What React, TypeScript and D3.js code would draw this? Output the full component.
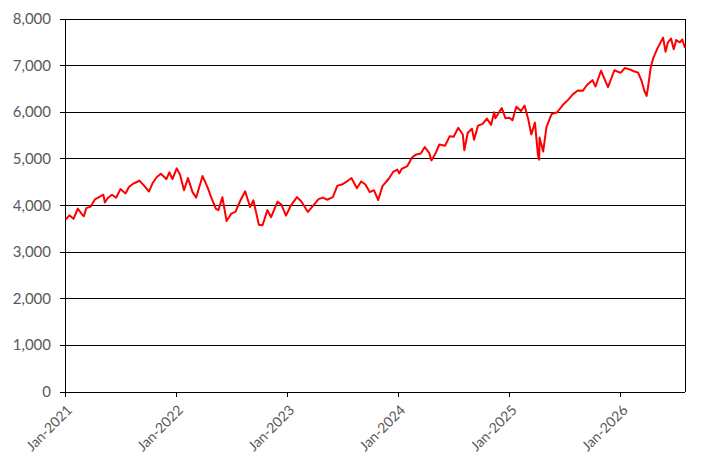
import { useEffect, useRef } from 'react';
import * as d3 from 'd3';

// index level (roughly every two weeks, plus the sharp turns)
const dates2021 = ['2021-01-04', '2021-01-15', '2021-01-29', '2021-02-12', '2021-02-26', '2021-03-04', '2021-03-12', '2021-03-26', '2021-04-09', '2021-04-23', '2021-05-07', '2021-05-12', '2021-05-21', '2021-06-04', '2021-06-18', '2021-07-02', '2021-07-19', '2021-07-30', '2021-08-13', '2021-08-27', '2021-09-02', '2021-09-17', '2021-10-04', '2021-10-15', '2021-10-29', '2021-11-12', '2021-11-30', '2021-12-10', '2021-12-20'];
const values2021 = [3700, 3790, 3714, 3934, 3811, 3768, 3943, 3975, 4129, 4180, 4232, 4063, 4156, 4230, 4166, 4352, 4258, 4395, 4468, 4509, 4537, 4433, 4300, 4471, 4605, 4682, 4567, 4712, 4568];

const dates2022 = ['2022-01-03', '2022-01-14', '2022-01-27', '2022-02-09', '2022-02-24', '2022-03-08', '2022-03-29', '2022-04-14', '2022-04-29', '2022-05-12', '2022-05-20', '2022-06-02', '2022-06-16', '2022-07-01', '2022-07-15', '2022-08-01', '2022-08-16', '2022-09-01', '2022-09-12', '2022-09-30', '2022-10-12', '2022-10-28', '2022-11-09', '2022-11-30', '2022-12-13', '2022-12-28'];
const values2022 = [4796, 4662, 4326, 4587, 4288, 4170, 4631, 4392, 4132, 3930, 3901, 4176, 3666, 3825, 3863, 4118, 4305, 3967, 4110, 3586, 3577, 3901, 3749, 4080, 4019, 3783];

const dates2023 = ['2023-01-13', '2023-02-02', '2023-02-16', '2023-03-10', '2023-03-24', '2023-04-14', '2023-04-28', '2023-05-12', '2023-05-31', '2023-06-15', '2023-06-30', '2023-07-14', '2023-07-31', '2023-08-18', '2023-09-01', '2023-09-15', '2023-09-29', '2023-10-13', '2023-10-27', '2023-11-10', '2023-11-30', '2023-12-15', '2023-12-29'];
const values2023 = [3999, 4179, 4090, 3862, 3971, 4137, 4169, 4124, 4180, 4426, 4450, 4505, 4589, 4370, 4516, 4450, 4288, 4328, 4117, 4415, 4568, 4719, 4770];

const dates2024 = ['2024-01-04', '2024-01-12', '2024-01-31', '2024-02-15', '2024-02-29', '2024-03-15', '2024-03-28', '2024-04-12', '2024-04-19', '2024-05-03', '2024-05-15', '2024-06-03', '2024-06-18', '2024-07-01', '2024-07-16', '2024-07-31', '2024-08-05', '2024-08-16', '2024-08-30', '2024-09-06', '2024-09-19', '2024-10-04', '2024-10-18', '2024-11-01', '2024-11-11', '2024-11-15', '2024-12-06', '2024-12-18', '2024-12-31'];
const values2024 = [4688, 4784, 4846, 5030, 5096, 5117, 5254, 5123, 4967, 5128, 5308, 5283, 5487, 5475, 5667, 5522, 5186, 5554, 5648, 5408, 5713, 5751, 5864, 5729, 6001, 5870, 6090, 5872, 5882];

const dates2025 = ['2025-01-10', '2025-01-23', '2025-02-07', '2025-02-19', '2025-03-03', '2025-03-13', '2025-03-25', '2025-04-04', '2025-04-08', '2025-04-09', '2025-04-21', '2025-05-02', '2025-05-19', '2025-06-06', '2025-06-27', '2025-07-11', '2025-07-28', '2025-08-13', '2025-08-29', '2025-09-12', '2025-09-30', '2025-10-10', '2025-10-28', '2025-11-20', '2025-12-11', '2025-12-31'];
const values2025 = [5827, 6119, 6026, 6144, 5850, 5522, 5777, 5074, 4982, 5457, 5158, 5687, 5963, 6000, 6173, 6260, 6389, 6466, 6460, 6584, 6688, 6552, 6890, 6538, 6901, 6845];

const dates2026 = ['2026-01-15', '2026-01-30', '2026-02-13', '2026-02-27', '2026-03-10', '2026-03-20', '2026-03-27', '2026-04-02', '2026-04-09', '2026-04-17', '2026-04-30', '2026-05-08', '2026-05-20', '2026-05-28', '2026-06-05', '2026-06-15', '2026-06-24', '2026-07-02', '2026-07-14', '2026-07-22', '2026-07-31'];
const values2026 = [6950, 6920, 6880, 6850, 6680, 6450, 6350, 6600, 6950, 7150, 7350, 7450, 7600, 7300, 7500, 7580, 7350, 7550, 7500, 7560, 7380];

const yTicks = [0, 1000, 2000, 3000, 4000, 5000, 6000, 7000, 8000];
const xTickYears = [2021, 2022, 2023, 2024, 2025, 2026];

export default function App() {
  const ref = useRef<SVGSVGElement | null>(null);

  useEffect(() => {
    if (!ref.current) return;

    const svg = d3.select(ref.current);
    svg.selectAll('*').remove();

    const parse = d3.timeParse('%Y-%m-%d');
    const dates = [...dates2021, ...dates2022, ...dates2023, ...dates2024, ...dates2025, ...dates2026];
    const values = [...values2021, ...values2022, ...values2023, ...values2024, ...values2025, ...values2026];
    const data = dates.map((d, i) => ({ date: parse(d)!, value: values[i] }));

    const left = 65;
    const right = 685;
    const top = 19;
    const bottom = 392;

    const x = d3
      .scaleTime()
      .domain([new Date(2021, 0, 1), new Date(2026, 6, 31)])
      .range([left, right]);

    const y = d3.scaleLinear().domain([0, 8000]).range([bottom, top]);

    const textColor = '#595959';
    const font = 'Lato, "Liberation Sans", sans-serif';

    // gridlines
    svg
      .append('g')
      .selectAll('line')
      .data(yTicks)
      .enter()
      .append('line')
      .attr('x1', left - 5)
      .attr('x2', right)
      .attr('y1', d => y(d))
      .attr('y2', d => y(d))
      .attr('stroke', '#000')
      .attr('stroke-width', 1)
      .attr('shape-rendering', 'crispEdges');

    // left axis and right border
    svg
      .append('line')
      .attr('x1', left)
      .attr('x2', left)
      .attr('y1', top)
      .attr('y2', bottom)
      .attr('stroke', '#000')
      .attr('shape-rendering', 'crispEdges');
    svg
      .append('line')
      .attr('x1', right)
      .attr('x2', right)
      .attr('y1', top)
      .attr('y2', bottom)
      .attr('stroke', '#000')
      .attr('shape-rendering', 'crispEdges');

    svg
      .append('g')
      .selectAll('text')
      .data(yTicks)
      .enter()
      .append('text')
      .attr('x', left - 14)
      .attr('y', d => y(d) + 5)
      .attr('text-anchor', 'end')
      .attr('fill', textColor)
      .attr('font-family', font)
      .attr('font-size', 15)
      .text(d => d3.format(',')(d));

    const xTicks = xTickYears.map(yr => new Date(yr, 0, 1));

    svg
      .append('g')
      .selectAll('line')
      .data(xTicks)
      .enter()
      .append('line')
      .attr('x1', d => x(d))
      .attr('x2', d => x(d))
      .attr('y1', bottom)
      .attr('y2', bottom + 5)
      .attr('stroke', '#000')
      .attr('shape-rendering', 'crispEdges');

    svg
      .append('g')
      .selectAll('text')
      .data(xTicks)
      .enter()
      .append('text')
      .attr('transform', d => `translate(${x(d) + 8},${bottom + 19}) rotate(-45)`)
      .attr('text-anchor', 'end')
      .attr('fill', textColor)
      .attr('font-family', font)
      .attr('font-size', 14)
      .text(d => d3.timeFormat('%b-%Y')(d));

    const line = d3
      .line<{ date: Date; value: number }>()
      .x(d => x(d.date))
      .y(d => y(d.value));

    svg
      .append('path')
      .datum(data)
      .attr('fill', 'none')
      .attr('stroke', '#ff0000')
      .attr('stroke-width', 2)
      .attr('stroke-linejoin', 'round')
      .attr('d', line);
  }, []);

  return (
    <svg
      ref={ref}
      width={719}
      height={472}
      style={{ position: 'absolute', left: 0, top: 0, background: '#fff' }}
    ></svg>
  );
}
